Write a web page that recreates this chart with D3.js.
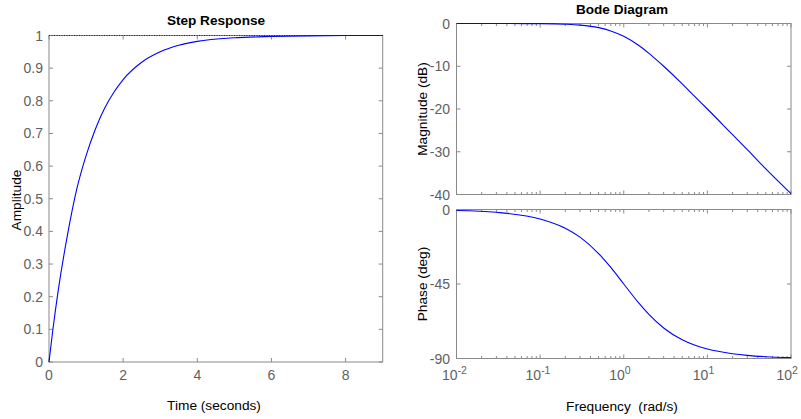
<!DOCTYPE html>
<html>
<head>
<meta charset="utf-8">
<script src="https://cdn.jsdelivr.net/npm/d3@7"></script>
<style>
  body { margin: 0; background: #fff; }
  svg { font-family: "Liberation Sans", Arial, sans-serif; }
  .tick-label { fill: #5f5f5f; font-size: 14px; }
  .ax-label { fill: #000; font-size: 13.7px; }
  .title { fill: #000; font-size: 13.6px; font-weight: bold; }
</style>
</head>
<body>
<main></main>
<script>
// step response samples (time in s, amplitude)
const stepTime = [0, 0.1, 0.25, 0.5, 0.75, 1, 1.25, 1.5, 1.75, 2, 2.5, 3, 3.5, 4, 5, 6, 7, 8, 9];
const stepAmp = [0, 0.095, 0.22, 0.39, 0.53, 0.632, 0.713, 0.777, 0.826, 0.865, 0.918, 0.95, 0.97, 0.982, 0.993, 0.997, 0.999, 1, 1];
const stepXTicks = [0, 2, 4, 6, 8];
const stepYTicks = [0, 0.1, 0.2, 0.3, 0.4, 0.5, 0.6, 0.7, 0.8, 0.9, 1];

// bode samples (rad/s, dB, deg)
const freq = [0.01, 0.03, 0.1, 0.2, 0.3, 0.5, 0.7, 1, 1.5, 2, 3, 5, 7, 10, 20, 30, 50, 100];
const magDb = [0, 0, -0.04, -0.17, -0.37, -0.97, -1.74, -3.0, -5.1, -7.0, -10.0, -14.1, -17.0, -20.0, -26.0, -29.5, -34.0, -39.8];
const phaseDeg = [-0.6, -1.7, -5.7, -11.3, -16.7, -26.6, -35.0, -45.0, -56.3, -63.4, -71.6, -78.7, -81.9, -84.3, -87.1, -88.1, -88.9, -89.4];
const magTicks = [0, -10, -20, -30, -40];
const phaseTicks = [0, -45, -90];
const decadeExps = [-2, -1, 0, 1, 2];

const W = 801, H = 419;
const axisColor = '#8a8a8a';
const lineColor = '#0000ff';
const tickLen = 4;

const svg = d3.select('main').append('svg').attr('width', W).attr('height', H);

// draws a boxed MATLAB-style frame with inward ticks on all four sides
function frame(g, x, y, xt, yt, minorX) {
    const [x0, x1] = x.range();
    const [y0, y1] = y.range(); // y0 bottom, y1 top
    g.append('rect')
        .attr('x', x0).attr('y', y1)
        .attr('width', x1 - x0).attr('height', y0 - y1)
        .attr('fill', 'none').attr('stroke', axisColor).attr('stroke-width', 1);
    const tk = g.append('g').attr('stroke', axisColor).attr('stroke-width', 1);
    xt.forEach(v => {
        const px = x(v);
        tk.append('line').attr('x1', px).attr('x2', px).attr('y1', y0).attr('y2', y0 - tickLen);
        tk.append('line').attr('x1', px).attr('x2', px).attr('y1', y1).attr('y2', y1 + tickLen);
    });
    (minorX || []).forEach(v => {
        const px = x(v);
        tk.append('line').attr('x1', px).attr('x2', px).attr('y1', y0).attr('y2', y0 - 2.5);
        tk.append('line').attr('x1', px).attr('x2', px).attr('y1', y1).attr('y2', y1 + 2.5);
    });
    yt.forEach(v => {
        const py = y(v);
        tk.append('line').attr('x1', x0).attr('x2', x0 + tickLen).attr('y1', py).attr('y2', py);
        tk.append('line').attr('x1', x1).attr('x2', x1 - tickLen).attr('y1', py).attr('y2', py);
    });
}

function yLabels(g, y, ticks, xPos, fmt) {
    g.selectAll(null).data(ticks).enter().append('text')
        .attr('class', 'tick-label')
        .attr('x', xPos)
        .attr('y', d => y(d) + 5)
        .attr('text-anchor', 'end')
        .text(fmt);
}

// ---- Step response ----
const sx = d3.scaleLinear().domain([0, 9]).range([49, 382.7]);
const sy = d3.scaleLinear().domain([0, 1]).range([362, 35.5]);
const sg = svg.append('g');
frame(sg, sx, sy, stepXTicks, stepYTicks);

// final value reference line
sg.append('line')
    .attr('x1', sx(0)).attr('x2', sx(9))
    .attr('y1', sy(1)).attr('y2', sy(1))
    .attr('stroke', '#222').attr('stroke-width', 1).attr('stroke-dasharray', '1,1.5');

sg.append('path')
    .datum(stepTime.map((t, i) => [t, stepAmp[i]]))
    .attr('fill', 'none').attr('stroke', lineColor).attr('stroke-width', 1.1)
    .attr('d', d3.line().x(d => sx(d[0])).y(d => sy(d[1])).curve(d3.curveMonotoneX));

yLabels(sg, sy, stepYTicks, 43, d => d3.format('')(d));
sg.selectAll(null).data(stepXTicks).enter().append('text')
    .attr('class', 'tick-label')
    .attr('x', d => sx(d)).attr('y', 380)
    .attr('text-anchor', 'middle')
    .text(d => d);

sg.append('text').attr('class', 'title').attr('x', 216).attr('y', 25)
    .attr('text-anchor', 'middle').text('Step Response');
sg.append('text').attr('class', 'ax-label').attr('x', 214).attr('y', 410)
    .attr('text-anchor', 'middle').text('Time (seconds)');
sg.append('text').attr('class', 'ax-label')
    .attr('transform', 'translate(21,200) rotate(-90)')
    .attr('text-anchor', 'middle').text('Amplitude');

// ---- Bode diagram ----
const bx = d3.scaleLog().domain([0.01, 100]).range([456.5, 791]);
const my = d3.scaleLinear().domain([-40, 0]).range([194.5, 23.5]);
const py = d3.scaleLinear().domain([-90, 0]).range([358.5, 209.5]);
const decades = decadeExps.map(e => Math.pow(10, e));
const minor = [];
decades.slice(0, -1).forEach(d => { for (let k = 2; k <= 9; k++) minor.push(d * k); });

const mg = svg.append('g');
frame(mg, bx, my, decades, magTicks, minor);
mg.append('path')
    .datum(freq.map((f, i) => [f, magDb[i]]))
    .attr('fill', 'none').attr('stroke', lineColor).attr('stroke-width', 1.1)
    .attr('d', d3.line().x(d => bx(d[0])).y(d => my(d[1])).curve(d3.curveMonotoneX));
yLabels(mg, my, magTicks, 450, d => d);

const pg = svg.append('g');
frame(pg, bx, py, decades, phaseTicks, minor);
pg.append('path')
    .datum(freq.map((f, i) => [f, phaseDeg[i]]))
    .attr('fill', 'none').attr('stroke', lineColor).attr('stroke-width', 1.1)
    .attr('d', d3.line().x(d => bx(d[0])).y(d => py(d[1])).curve(d3.curveMonotoneX));
yLabels(pg, py, phaseTicks, 450, d => d);

// decade labels: base ends at the tick, exponent raised to its right
const dl = pg.selectAll(null).data(decadeExps).enter().append('g')
    .attr('transform', d => `translate(${bx(Math.pow(10, d)) + 1},380)`);
dl.append('text').attr('class', 'tick-label').attr('text-anchor', 'end').text('10');
dl.append('text').attr('class', 'tick-label').attr('y', -6)
    .attr('font-size', '10.5px').style('font-size', '10.5px').text(d => d);

svg.append('text').attr('class', 'title').attr('x', 622).attr('y', 14)
    .attr('text-anchor', 'middle').text('Bode Diagram');
svg.append('text').attr('class', 'ax-label').attr('x', 622).attr('y', 411)
    .attr('text-anchor', 'middle').attr('xml:space', 'preserve').text('Frequency  (rad/s)');
svg.append('text').attr('class', 'ax-label')
    .attr('transform', 'translate(427,109) rotate(-90)')
    .attr('text-anchor', 'middle').text('Magnitude (dB)');
svg.append('text').attr('class', 'ax-label')
    .attr('transform', 'translate(427,284) rotate(-90)')
    .attr('text-anchor', 'middle').text('Phase (deg)');
</script>
</body>
</html>
